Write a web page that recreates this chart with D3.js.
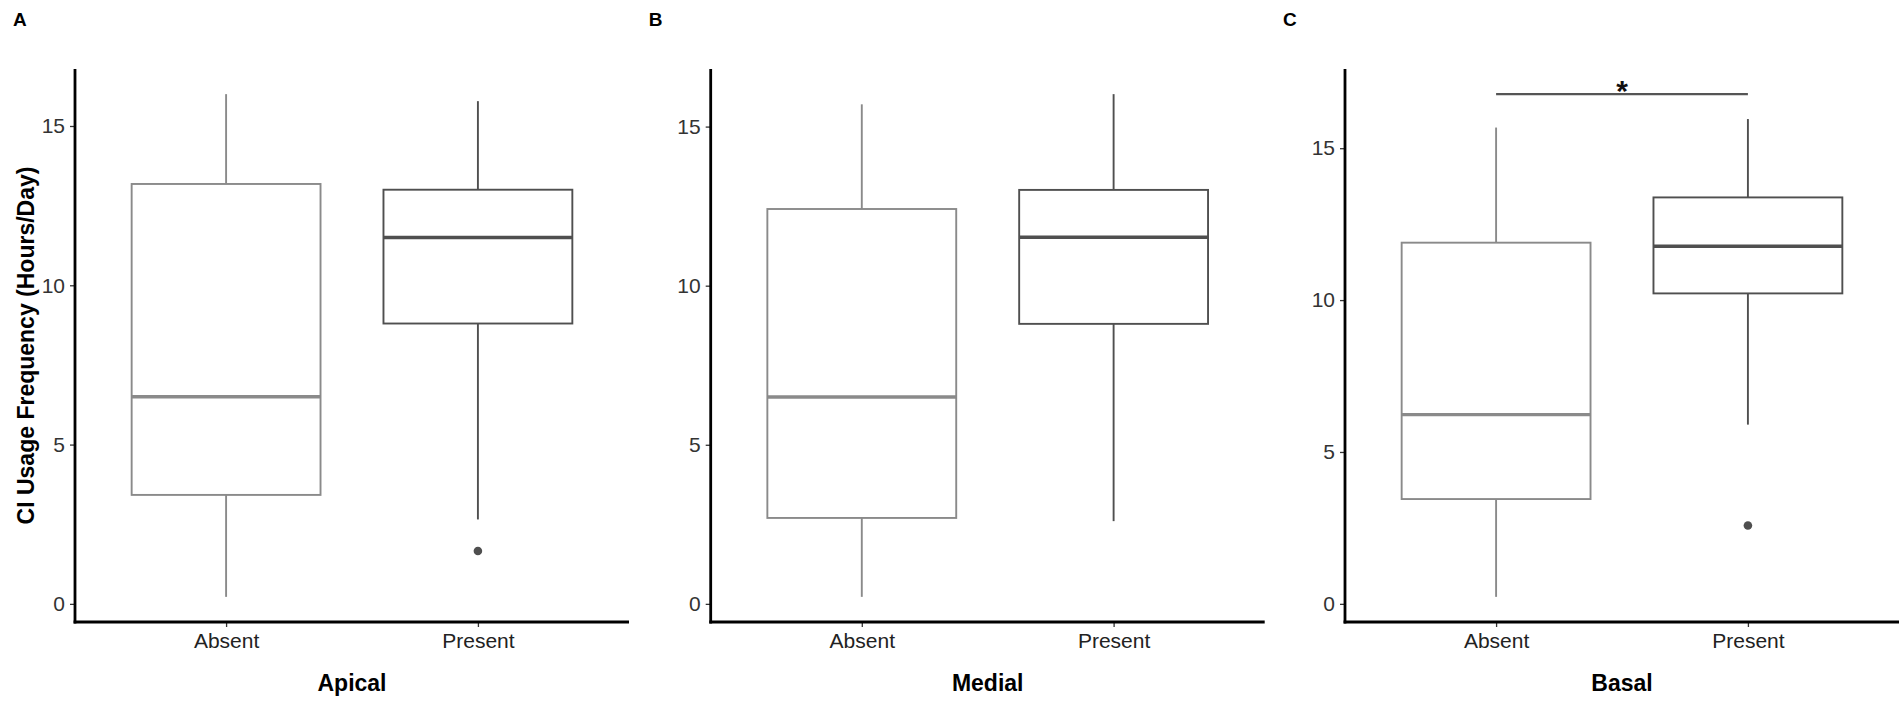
<!DOCTYPE html>
<html>
<head>
<meta charset="utf-8">
<script src="https://cdn.jsdelivr.net/npm/d3@7"></script>
<style>
  body { margin: 0; background: #fff; }
  svg { display: block; font-family: "Liberation Sans", Arial, sans-serif; }
</style>
</head>
<body>
<div class="box-chart"></div>
<script>
// categories
const groups = ["Absent", "Present"];
const panelLetters = ["A", "B", "C"];
const regions = ["Apical", "Medial", "Basal"];
const yTicks = [0, 5, 10, 15];

// box summaries: [lower whisker, q1, median, q3, upper whisker]
const apicalAbsent = [0.22, 3.42, 6.5, 13.18, 16.0];
const apicalPresent = [2.65, 8.8, 11.5, 13.0, 15.78];
const medialAbsent = [0.22, 2.7, 6.5, 12.41, 15.7];
const medialPresent = [2.6, 8.8, 11.52, 13.01, 16.02];
const basalAbsent = [0.23, 3.45, 6.23, 11.89, 15.68];
const basalPresent = [5.9, 10.22, 11.77, 13.38, 15.96];

// outliers per group
const apicalOutliers = [[], [1.66]];
const medialOutliers = [[], []];
const basalOutliers = [[], [2.58]];

// significance bracket (only on Basal)
const basalBracket = 16.78;
const basalStars = "*";

const panels = [
  { letter: panelLetters[0], title: regions[0], boxes: [apicalAbsent, apicalPresent], outliers: apicalOutliers, bracket: null },
  { letter: panelLetters[1], title: regions[1], boxes: [medialAbsent, medialPresent], outliers: medialOutliers, bracket: null },
  { letter: panelLetters[2], title: regions[2], boxes: [basalAbsent, basalPresent], outliers: basalOutliers, bracket: { y: basalBracket, label: basalStars } }
];

const width = 1902, height = 703;
const plotTop = 69, plotBottom = 622;
const panelLeft = [75, 710.7, 1345];
const panelWidth = 554;
const colors = ["#8a8a8a", "#4f4f4f"];

const svg = d3.select(".box-chart")
  .append("svg")
  .attr("width", width)
  .attr("height", height);

panels.forEach((p, pi) => {
  const x0 = panelLeft[pi];

  // ggplot style expansion (5%) on the data range
  let vals = [];
  p.boxes.forEach(b => vals = vals.concat(b));
  p.outliers.forEach(o => vals = vals.concat(o));
  if (p.bracket) vals.push(p.bracket.y);
  const [lo, hi] = d3.extent(vals);
  const pad = (hi - lo) * 0.05;

  const y = d3.scaleLinear()
    .domain([lo - pad, hi + pad])
    .range([plotBottom, plotTop]);

  const x = d3.scaleBand()
    .domain(groups)
    .range([0, panelWidth])
    .paddingOuter(0.1)
    .paddingInner(0);
  // ggplot discrete: centres at 0.6 and 1.6 units of a 2.2 unit range
  const unit = panelWidth / 2.2;
  const cx = d => unit * (0.6 + groups.indexOf(d));
  const boxW = unit * 0.75;

  const g = svg.append("g")
    .attr("transform", `translate(${x0},0)`);

  // panel letter
  g.append("text")
    .attr("x", -62)
    .attr("y", 26)
    .attr("font-size", 19)
    .attr("font-weight", "bold")
    .attr("fill", "#000")
    .text(p.letter);

  // boxes
  groups.forEach((grp, gi) => {
    const b = p.boxes[gi];
    const c = cx(grp);
    const col = colors[gi];
    const bg = g.append("g").attr("class", "box");

    bg.append("line")
      .attr("x1", c).attr("x2", c)
      .attr("y1", y(b[4])).attr("y2", y(b[3]))
      .attr("stroke", col).attr("stroke-width", 1.9);
    bg.append("line")
      .attr("x1", c).attr("x2", c)
      .attr("y1", y(b[1])).attr("y2", y(b[0]))
      .attr("stroke", col).attr("stroke-width", 1.9);
    bg.append("rect")
      .attr("x", c - boxW / 2)
      .attr("y", y(b[3]))
      .attr("width", boxW)
      .attr("height", y(b[1]) - y(b[3]))
      .attr("fill", "#fff")
      .attr("stroke", col)
      .attr("stroke-width", 1.9);
    bg.append("line")
      .attr("x1", c - boxW / 2).attr("x2", c + boxW / 2)
      .attr("y1", y(b[2])).attr("y2", y(b[2]))
      .attr("stroke", col).attr("stroke-width", 3.4);

    bg.selectAll("circle")
      .data(p.outliers[gi])
      .join("circle")
      .attr("cx", c)
      .attr("cy", d => y(d))
      .attr("r", 4.3)
      .attr("fill", col);
  });

  // significance bracket
  if (p.bracket) {
    g.append("line")
      .attr("x1", cx(groups[0])).attr("x2", cx(groups[1]))
      .attr("y1", y(p.bracket.y)).attr("y2", y(p.bracket.y))
      .attr("stroke", "#555").attr("stroke-width", 2.2);
    g.append("text")
      .attr("x", (cx(groups[0]) + cx(groups[1])) / 2)
      .attr("y", y(p.bracket.y) + 7)
      .attr("text-anchor", "middle")
      .attr("font-size", 30)
      .attr("font-weight", "bold")
      .attr("fill", "#111")
      .text(p.bracket.label);
  }

  // y axis
  const yAxis = g.append("g")
    .call(d3.axisLeft(y).tickValues(yTicks).tickSize(5).tickPadding(5).tickFormat(d3.format("d")));
  yAxis.select(".domain").remove();
  yAxis.selectAll(".tick line").attr("stroke", "#333").attr("stroke-width", 1.3);
  yAxis.selectAll(".tick text").attr("font-size", 21).attr("fill", "#333");
  g.append("line")
    .attr("x1", 0).attr("x2", 0)
    .attr("y1", plotTop).attr("y2", plotBottom + 1.4)
    .attr("stroke", "#000").attr("stroke-width", 2.8);

  // x axis
  const xScale = d3.scaleOrdinal().domain(groups).range(groups.map(cx));
  const xAxis = g.append("g")
    .attr("transform", `translate(0,${plotBottom})`)
    .call(d3.axisBottom(xScale).tickSize(5).tickPadding(6));
  xAxis.select(".domain").remove();
  xAxis.selectAll(".tick line").attr("stroke", "#333").attr("stroke-width", 1.3);
  xAxis.selectAll(".tick text").attr("font-size", 21).attr("fill", "#222");
  g.append("line")
    .attr("x1", -1.4).attr("x2", panelWidth)
    .attr("y1", plotBottom).attr("y2", plotBottom)
    .attr("stroke", "#000").attr("stroke-width", 2.8);

  // x title
  g.append("text")
    .attr("x", panelWidth / 2)
    .attr("y", 691)
    .attr("text-anchor", "middle")
    .attr("font-size", 23)
    .attr("font-weight", "bold")
    .attr("fill", "#000")
    .text(p.title);

  // y title only on first panel
  if (pi === 0) {
    g.append("text")
      .attr("transform", `translate(${-41},${(plotTop + plotBottom) / 2}) rotate(-90)`)
      .attr("text-anchor", "middle")
      .attr("font-size", 23)
      .attr("font-weight", "bold")
      .attr("fill", "#000")
      .text("CI Usage Frequency (Hours/Day)");
  }
});
</script>
</body>
</html>
